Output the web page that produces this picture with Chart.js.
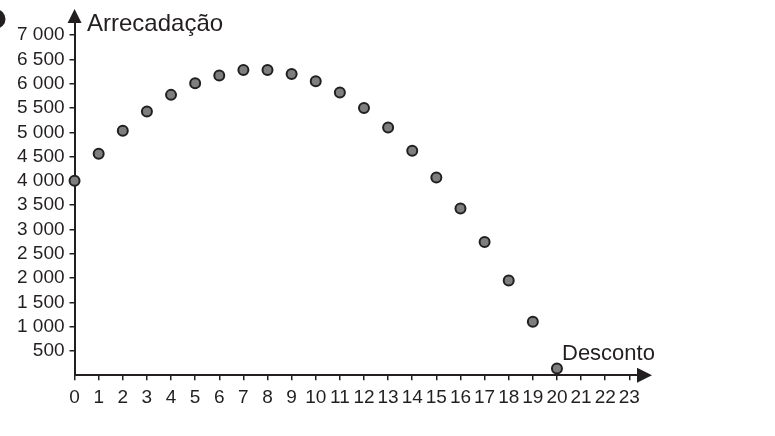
<!DOCTYPE html>
<html>
<head>
<meta charset="utf-8">
<script src="https://cdn.jsdelivr.net/npm/chart.js@4"></script>
<style>
  html, body { margin: 0; padding: 0; background: #fff; }
  #wrap { width: 775px; height: 436px; position: relative; }
</style>
</head>
<body>
<div id="wrap"><canvas id="grafico"></canvas></div>
<script>
// dados
const descontos = [0, 1, 2, 3, 4, 5, 6, 7, 8, 9, 10, 11, 12, 13, 14, 15, 16, 17, 18, 19, 20];
const arrecadacao = [4000, 4560, 5030, 5430, 5770, 6010, 6170, 6280, 6280, 6200, 6050,
                     5820, 5500, 5100, 4620, 4070, 3430, 2740, 1950, 1100, 140];
const yTicks = [500, 1000, 1500, 2000, 2500, 3000, 3500, 4000, 4500, 5000, 5500, 6000, 6500, 7000];
const xTicks = [0, 1, 2, 3, 4, 5, 6, 7, 8, 9, 10, 11, 12, 13, 14, 15, 16, 17, 18, 19, 20, 21, 22, 23];
const tituloY = "Arrecadação";
const tituloX = "Desconto";

const INK = "#231f20";
const FONT = "'Liberation Sans', Arial, sans-serif";

function milhar(v) {
    if (v < 1000) return String(v);
    return Math.floor(v / 1000) + " " + String(v % 1000).padStart(3, "0");
}

// setas, títulos e marcador do canto
const eixosPlugin = {
    id: "eixos",
    afterDraw(chart) {
        const c = chart.ctx;
        const a = chart.chartArea;
        c.save();
        c.fillStyle = INK;
        // seta vertical
        c.beginPath();
        c.moveTo(a.left, 9);
        c.lineTo(a.left - 7, a.top + 1);
        c.lineTo(a.left + 7, a.top + 1);
        c.closePath();
        c.fill();
        // seta horizontal
        c.beginPath();
        c.moveTo(652, a.bottom);
        c.lineTo(a.right - 1, a.bottom - 7.5);
        c.lineTo(a.right - 1, a.bottom + 7.5);
        c.closePath();
        c.fill();
        // marcador cortado no canto
        c.beginPath();
        c.arc(-4, 19, 9.5, 0, Math.PI * 2);
        c.fill();
        // títulos
        c.font = "24px " + FONT;
        c.textBaseline = "alphabetic";
        c.textAlign = "left";
        c.fillText(tituloY, 87, 31);
        c.font = "22px " + FONT;
        c.fillText(tituloX, 562, 360);
        c.restore();
    }
};

const ctx = document.getElementById("grafico");

new Chart(ctx, {
    type: "scatter",
    data: {
        datasets: [{
            label: tituloY,
            data: descontos.map((d, i) => ({ x: d, y: arrecadacao[i] })),
            pointRadius: 5,
            pointHoverRadius: 5,
            borderWidth: 2,
            pointBorderWidth: 2,
            borderColor: INK,
            backgroundColor: "#7d7e80",
            clip: false
        }]
    },
    options: {
        responsive: true,
        maintainAspectRatio: false,
        animation: false,
        layout: {
            padding: { left: 12, right: 137, top: 22, bottom: 21 }
        },
        plugins: {
            legend: { display: false },
            tooltip: { enabled: false }
        },
        scales: {
            x: {
                type: "linear",
                min: 0,
                max: 23.36,
                afterBuildTicks: s => { s.ticks = xTicks.map(v => ({ value: v })); },
                ticks: {
                    color: INK,
                    font: { family: FONT, size: 19 },
                    padding: 6,
                    maxRotation: 0,
                    autoSkip: false,
                    callback: v => String(v)
                },
                grid: {
                    drawOnChartArea: false,
                    drawTicks: true,
                    tickLength: 5,
                    color: INK,
                    lineWidth: 1.5
                },
                border: { display: true, color: INK, width: 2 }
            },
            y: {
                type: "linear",
                min: 0,
                max: 7270,
                afterBuildTicks: s => { s.ticks = yTicks.map(v => ({ value: v })); },
                ticks: {
                    color: INK,
                    font: { family: FONT, size: 19 },
                    padding: 5,
                    autoSkip: false,
                    callback: v => milhar(v)
                },
                grid: {
                    drawOnChartArea: false,
                    drawTicks: true,
                    tickLength: 5,
                    color: INK,
                    lineWidth: 1.5
                },
                border: { display: true, color: INK, width: 2 }
            }
        }
    },
    plugins: [eixosPlugin]
});
</script>
</body>
</html>
